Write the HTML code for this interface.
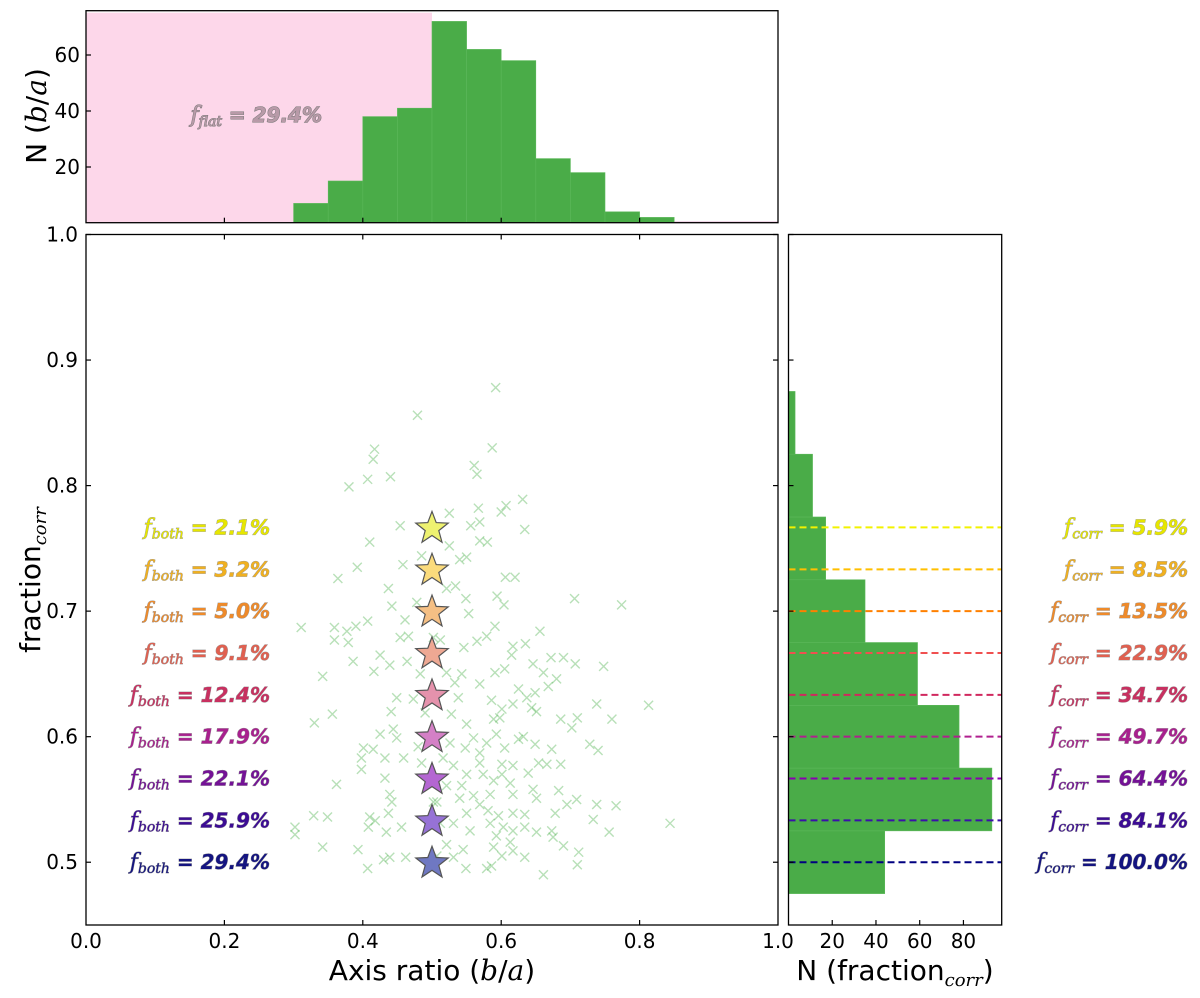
<!DOCTYPE html>
<html><head><meta charset="utf-8"><style>
body{margin:0;background:#fff}
svg{display:block;font-family:"DejaVu Sans","Liberation Sans",sans-serif}
.lbl{font-weight:bold;font-style:italic;font-size:20px;paint-order:stroke;stroke:#999;stroke-width:0.8px}
.fs{font-family:"DejaVu Serif","Liberation Serif",serif;font-style:italic;font-weight:normal}
</style></head><body>
<svg id="fig" width="1200" height="998" viewBox="0 0 1200 998" xmlns="http://www.w3.org/2000/svg">
<g id="topHist"></g>
<g id="main"></g>
<g id="rightHist"></g>
</svg>
<script>
// ---- data ----
const baEdges=[0.3,0.35,0.4,0.45,0.5,0.55,0.6,0.65,0.7,0.75,0.8,0.85];
const baCounts=[7,15,38,41,72,62,58,23,18,4,2];
const fracEdges=[0.475,0.525,0.575,0.625,0.675,0.725,0.775,0.825,0.875];
const fracCounts=[44,93,78,59,35,17,11,3];
const ptX=[0.592,0.479,0.417,0.415,0.587,0.561,0.565,0.407,0.440,0.380,0.631,0.607,0.600,0.567,0.525,0.569,0.556,0.454,0.634,0.569,0.580,0.410,0.525,0.550,0.540,0.392,0.458,0.485,0.364,0.606,0.620,0.437,0.521,0.534,0.549,0.594,0.604,0.706,0.774,0.442,0.553,0.478,0.461,0.311,0.359,0.377,0.390,0.407,0.359,0.379,0.454,0.466,0.502,0.512,0.565,0.579,0.591,0.656,0.546,0.617,0.635,0.615,0.425,0.386,0.439,0.464,0.646,0.672,0.690,0.707,0.748,0.661,0.680,0.605,0.591,0.342,0.416,0.483,0.521,0.543,0.533,0.569,0.668,0.625,0.649,0.449,0.473,0.538,0.586,0.637,0.617,0.738,0.813,0.441,0.490,0.528,0.601,0.644,0.651,0.356,0.330,0.589,0.598,0.686,0.710,0.760,0.702,0.444,0.425,0.449,0.550,0.560,0.579,0.593,0.625,0.632,0.401,0.415,0.432,0.459,0.526,0.548,0.569,0.605,0.649,0.673,0.728,0.740,0.398,0.398,0.485,0.516,0.531,0.569,0.601,0.617,0.654,0.666,0.686,0.550,0.574,0.601,0.639,0.432,0.362,0.521,0.543,0.589,0.613,0.646,0.683,0.439,0.540,0.560,0.584,0.617,0.651,0.442,0.507,0.569,0.695,0.738,0.766,0.709,0.329,0.349,0.437,0.550,0.581,0.596,0.617,0.634,0.678,0.418,0.302,0.302,0.408,0.434,0.456,0.512,0.531,0.555,0.584,0.603,0.617,0.634,0.651,0.673,0.733,0.756,0.844,0.593,0.613,0.675,0.342,0.393,0.521,0.545,0.589,0.617,0.690,0.712,0.430,0.439,0.462,0.507,0.531,0.601,0.634,0.710,0.407,0.549,0.579,0.586,0.661,0.410,0.502,0.480];
const ptY=[0.878,0.856,0.829,0.821,0.830,0.816,0.809,0.805,0.807,0.799,0.789,0.784,0.779,0.782,0.778,0.771,0.768,0.768,0.765,0.756,0.755,0.755,0.752,0.743,0.741,0.735,0.737,0.744,0.726,0.727,0.727,0.718,0.718,0.720,0.710,0.712,0.705,0.710,0.705,0.704,0.698,0.707,0.693,0.687,0.687,0.684,0.688,0.692,0.677,0.675,0.679,0.680,0.679,0.677,0.676,0.680,0.688,0.684,0.671,0.672,0.674,0.665,0.665,0.660,0.657,0.660,0.658,0.663,0.663,0.658,0.656,0.651,0.646,0.654,0.651,0.648,0.652,0.650,0.651,0.650,0.643,0.642,0.640,0.638,0.635,0.631,0.630,0.631,0.629,0.631,0.626,0.626,0.625,0.620,0.619,0.618,0.622,0.623,0.620,0.618,0.611,0.614,0.615,0.614,0.615,0.614,0.607,0.606,0.602,0.599,0.610,0.599,0.595,0.602,0.598,0.600,0.591,0.590,0.583,0.583,0.595,0.591,0.587,0.591,0.594,0.590,0.594,0.589,0.583,0.574,0.579,0.583,0.577,0.579,0.578,0.577,0.579,0.578,0.578,0.570,0.570,0.570,0.571,0.567,0.562,0.561,0.561,0.565,0.563,0.558,0.557,0.554,0.551,0.553,0.554,0.554,0.551,0.548,0.548,0.546,0.546,0.546,0.545,0.550,0.537,0.536,0.539,0.539,0.541,0.537,0.539,0.538,0.539,0.533,0.528,0.522,0.528,0.524,0.528,0.531,0.531,0.525,0.531,0.528,0.525,0.528,0.524,0.525,0.534,0.524,0.531,0.521,0.516,0.520,0.512,0.510,0.514,0.510,0.512,0.509,0.513,0.508,0.502,0.504,0.504,0.505,0.504,0.505,0.504,0.498,0.495,0.495,0.495,0.497,0.490,0.536,0.548,0.592];
const starY=[0.7667,0.7333,0.7,0.6667,0.6333,0.6,0.5667,0.5333,0.5];
const bothVals=["2.1%","3.2%","5.0%","9.1%","12.4%","17.9%","22.1%","25.9%","29.4%"];
const corrVals=["5.9%","8.5%","13.5%","22.9%","34.7%","49.7%","64.4%","84.1%","100.0%"];
const flatVal="29.4%";
const xTicks=[0.0,0.2,0.4,0.6,0.8,1.0];
const yTicks=[0.5,0.6,0.7,0.8,0.9,1.0];
const topYTicks=[20,40,60];
const rightXTicks=[20,40,60,80];
const starFill=["#eef270","#fbdb7c","#f5bf84","#eea893","#e592ac","#d480c6","#b466d2","#9672d6","#6f78c2"];
const txtCol=["#e6e600","#f0b020","#ee8a2a","#e06050","#c83060","#a8208e","#741296","#3c0c94","#141480"];
const lineCol=["#f2f200","#ffbf00","#ff8000","#f05050","#d0285e","#b0208f","#8a00b0","#3a10a8","#000080"];

const NS="http://www.w3.org/2000/svg";
function mk(parent,tag,attrs,text){const e=document.createElementNS(NS,tag);for(const k in attrs)e.setAttribute(k,attrs[k]);if(text!==undefined)e.textContent=text;parent.appendChild(e);return e;}

const MX0=86,MX1=778,MY0=234.5,MY1=925;
const sx=v=>MX0+(v-0)/(1-0)*(MX1-MX0);
const sy=v=>MY1-(v-0.45)/(1.0-0.45)*(MY1-MY0);
const TY0=10.7,TY1=222.7;
const ty=v=>223-(v)*2.8;
const RX0=788.5,RX1=1001.7;
const rx=v=>RX0+v*(RX1-RX0)/97.5;

// ---- top histogram ----
const topG=document.getElementById('topHist');
let r=mk(topG,'rect',{x:sx(0),y:TY0+2,width:sx(0.5)-sx(0),height:TY1-TY0-2,fill:'#fdd7ea'});


baCounts.forEach((c,i)=>{
  const b=mk(topG,'rect',{x:sx(baEdges[i]),y:Math.max(ty(c),TY0),width:sx(baEdges[i+1])-sx(baEdges[i]),height:TY1-Math.max(ty(c),TY0),fill:'#4aac48',stroke:'#5cb85a','stroke-width':0.6});
  
  
});
mk(topG,'line',{x1:sx(0.85),x2:sx(1),y1:TY1-0.5,y2:TY1-0.5,stroke:'#c060a0','stroke-width':1});
r=mk(topG,'rect',{x:MX0,y:TY0,width:MX1-MX0,height:TY1-TY0,fill:'none',stroke:'#000','stroke-width':1.3});


topYTicks.forEach(t=>{
  mk(topG,'line',{x1:MX0,x2:MX0+5,y1:ty(t),y2:ty(t),stroke:'#000','stroke-width':1.2});
  const tl=mk(topG,'text',{x:MX0-6,y:ty(t)+7,'text-anchor':'end','font-size':20},String(t));
  
  
});
[0.2,0.4,0.6,0.8].forEach(t=>mk(topG,'line',{x1:sx(t),x2:sx(t),y1:TY1,y2:TY1-5,stroke:'#000','stroke-width':1.2}));
let t1=mk(topG,'text',{x:0,y:0,transform:'translate(46,116) rotate(-90)','text-anchor':'middle','font-size':28});
t1.innerHTML='N (<tspan font-family="DejaVu Serif, serif" font-style="italic">b</tspan>/<tspan font-family="DejaVu Serif, serif" font-style="italic">a</tspan>)';


let ft=mk(topG,'text',{x:322,y:122,'text-anchor':'end',class:'lbl',fill:'#b89aa8',style:'stroke:#777;stroke-width:1px'});
ft.innerHTML='<tspan class="fs" font-size="22">f</tspan><tspan class="fs" font-size="14" dy="4">flat</tspan><tspan dy="-4"> = '+flatVal+'</tspan>';



// ---- main panel ----
const mainG=document.getElementById('main');
ptX.forEach((x,i)=>{
  const cx=sx(x),cy=sy(ptY[i]),d=4.5;
  const g=mk(mainG,'path',{d:`M${cx-d},${cy-d}L${cx+d},${cy+d}M${cx-d},${cy+d}L${cx+d},${cy-d}`,stroke:'#55b555','stroke-opacity':0.42,'stroke-width':1.4,fill:'none'});
  
  
});
function starPath(cx,cy,R){const ri=R*0.42;let p='';for(let k=0;k<10;k++){const a=-Math.PI/2+k*Math.PI/5;const rr=k%2?ri:R;p+=(k?'L':'M')+(cx+rr*Math.cos(a)).toFixed(1)+','+(cy+rr*Math.sin(a)).toFixed(1);}return p+'Z';}
starY.forEach((y,i)=>{
  const s=mk(mainG,'path',{d:starPath(sx(0.5),sy(y)+1,17),fill:starFill[i],stroke:'#555','stroke-width':1.2});
  
  
  const t=mk(mainG,'text',{x:270,y:sy(y)+7,'text-anchor':'end',class:'lbl',fill:txtCol[i]});
  t.innerHTML='<tspan class="fs" font-size="22">f</tspan><tspan class="fs" font-size="14" dy="4">both</tspan><tspan dy="-4"> = '+bothVals[i]+'</tspan>';
  
  
});
r=mk(mainG,'rect',{x:MX0,y:MY0,width:MX1-MX0,height:MY1-MY0,fill:'none',stroke:'#000','stroke-width':1.3});


xTicks.forEach(t=>{
  if(t>0&&t<1){mk(mainG,'line',{x1:sx(t),x2:sx(t),y1:MY1,y2:MY1-5,stroke:'#000','stroke-width':1.2});
  mk(mainG,'line',{x1:sx(t),x2:sx(t),y1:MY0,y2:MY0+5,stroke:'#000','stroke-width':1.2});}
  const tl=mk(mainG,'text',{x:sx(t),y:948,'text-anchor':'middle','font-size':20},t.toFixed(1));
  
  
});
yTicks.forEach(t=>{
  mk(mainG,'line',{x1:MX0,x2:MX0+5,y1:sy(t),y2:sy(t),stroke:'#000','stroke-width':1.2});
  mk(mainG,'line',{x1:MX1,x2:MX1-5,y1:sy(t),y2:sy(t),stroke:'#000','stroke-width':1.2});
  const tl=mk(mainG,'text',{x:MX0-8,y:sy(t)+7,'text-anchor':'end','font-size':20},t.toFixed(1));
  
  
});
let xt=mk(mainG,'text',{x:432,y:980,'text-anchor':'middle','font-size':28});
xt.innerHTML='Axis ratio (<tspan font-family="DejaVu Serif, serif" font-style="italic">b</tspan>/<tspan font-family="DejaVu Serif, serif" font-style="italic">a</tspan>)';


let yt=mk(mainG,'text',{x:0,y:0,transform:'translate(40,580) rotate(-90)','text-anchor':'middle','font-size':28});
yt.innerHTML='fraction<tspan font-family="DejaVu Serif, serif" font-style="italic" font-size="18" dy="6">corr</tspan>';



// ---- right histogram ----
const rightG=document.getElementById('rightHist');
fracCounts.forEach((c,i)=>{
  const b=mk(rightG,'rect',{x:RX0,y:sy(fracEdges[i+1]),width:rx(c)-RX0,height:sy(fracEdges[i])-sy(fracEdges[i+1]),fill:'#4aac48',stroke:'#5cb85a','stroke-width':0.6});
  
  
});
starY.forEach((y,i)=>{
  const l=mk(rightG,'line',{x1:RX0,x2:RX1,y1:sy(y),y2:sy(y),stroke:lineCol[i],'stroke-width':2,'stroke-dasharray':'7,4'});
  
  
  const t=mk(rightG,'text',{x:1188,y:sy(y)+7,'text-anchor':'end',class:'lbl',fill:txtCol[i]});
  t.innerHTML='<tspan class="fs" font-size="22">f</tspan><tspan class="fs" font-size="14" dy="4">corr</tspan><tspan dy="-4"> = '+corrVals[i]+'</tspan>';
  
  
});
r=mk(rightG,'rect',{x:RX0,y:MY0,width:RX1-RX0,height:MY1-MY0,fill:'none',stroke:'#000','stroke-width':1.3});


yTicks.forEach(t=>mk(rightG,'line',{x1:RX0,x2:RX0+5,y1:sy(t),y2:sy(t),stroke:'#000','stroke-width':1.2}));
rightXTicks.forEach(t=>{
  mk(rightG,'line',{x1:rx(t),x2:rx(t),y1:MY1,y2:MY1-5,stroke:'#000','stroke-width':1.2});
  const tl=mk(rightG,'text',{x:rx(t),y:948,'text-anchor':'middle','font-size':20},String(t));
  
  
});
let rt=mk(rightG,'text',{x:895,y:980,'text-anchor':'middle','font-size':28});
rt.innerHTML='N (fraction<tspan font-family="DejaVu Serif, serif" font-style="italic" font-size="18" dy="6">corr</tspan><tspan dy="-6">)</tspan>';


</script>
</body></html>
